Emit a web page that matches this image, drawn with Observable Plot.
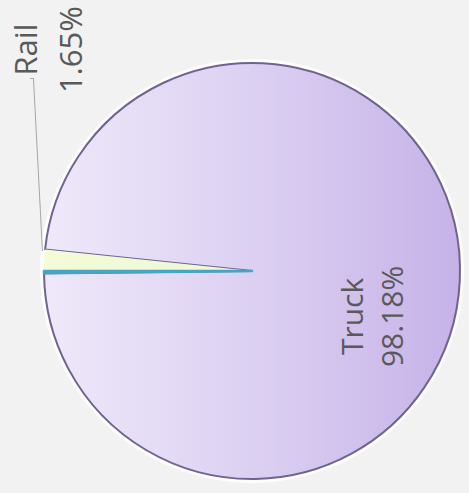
<!DOCTYPE html>
<html><head><meta charset="utf-8">
<script src="https://cdn.jsdelivr.net/npm/d3@7"></script>
<script src="https://cdn.jsdelivr.net/npm/@observablehq/plot@0.6"></script>
<style>html,body{margin:0;padding:0;background:#f2f2f2;} svg{display:block;}</style>
</head><body><div id="chart"></div>
<script>
// Data
const modes = ["Rail", "Truck", "Other"];
const shares = [1.65, 98.18, 0.17];
const pctLabels = ["1.65%", "98.18%", ""];

const data = modes.map((m, i) => ({mode: m, share: shares[i], pct: pctLabels[i]}));

// Pie layout (clockwise starting at 9 o'clock)
const arcs = d3.pie().value(d => d.share).sort(null)
  .startAngle(-Math.PI / 2).endAngle(3 * Math.PI / 2)(data);

const fills = {Rail: "url(#gRail)", Truck: "url(#gTruck)", Other: "#4bacc6"};
const strokes = {Rail: "none", Truck: "#6f6490", Other: "#4aa3c4"};
const strokeW = {Rail: 0, Truck: 2, Other: 2.5};
const drawOrder = ["Truck", "Rail", "Other"];

function pieMark(index, scales, values, dims, context) {
  const cx = scales.x(0), cy = scales.y(0);
  const r = scales.x(1) - scales.x(0);
  const g = d3.create("svg:g");
  const defs = g.append("defs");
  const gt = defs.append("linearGradient").attr("id", "gTruck")
    .attr("gradientUnits", "userSpaceOnUse")
    .attr("x1", -r).attr("x2", r).attr("y1", 0).attr("y2", 0);
  gt.append("stop").attr("offset", "0%").attr("stop-color", "#efe9fa");
  gt.append("stop").attr("offset", "50%").attr("stop-color", "#dcd0f2");
  gt.append("stop").attr("offset", "100%").attr("stop-color", "#c6b2e8");
  const gr = defs.append("linearGradient").attr("id", "gRail")
    .attr("gradientUnits", "userSpaceOnUse")
    .attr("x1", -r).attr("x2", 0).attr("y1", 0).attr("y2", 0);
  gr.append("stop").attr("offset", "0%").attr("stop-color", "#f3fcd6");
  gr.append("stop").attr("offset", "100%").attr("stop-color", "#eef7d8");
  // soft white rim
  g.append("circle").attr("cx", cx).attr("cy", cy).attr("r", r + 2)
    .attr("fill", "none").attr("stroke", "#ffffff").attr("stroke-width", 4).attr("stroke-opacity", 0.8);
  const arcGen = d3.arc().innerRadius(0).outerRadius(r);
  const root = g.append("g").attr("transform", `translate(${cx},${cy})`);
  for (const name of drawOrder) {
    const a = arcs.find(d => d.data.mode === name);
    root.append("path").attr("d", arcGen(a))
      .attr("fill", fills[name])
      .attr("stroke", strokes[name])
      .attr("stroke-width", strokeW[name])
      .attr("stroke-linejoin", "round");
  }
  return g.node();
}

// label layout (data units; center = 0,0, radius = 1)
const labelPos = {Rail: [-0.995, 1.067, 31, 1.45], Truck: [0.567, -0.216, 30, 1.32]};
const labels = data.filter(d => labelPos[d.mode]).map(d => ({
  text: d.mode + "\n" + d.pct,
  x: labelPos[d.mode][0], y: labelPos[d.mode][1],
  size: labelPos[d.mode][2], lh: labelPos[d.mode][3]
}));

const leader = [[-1.067, 0.928], [-1.053, 0.928], [-1.01, 0.10]];

const plot = Plot.plot({
  width: 469, height: 493,
  marginLeft: 44, marginRight: 9, marginTop: 63, marginBottom: 14,
  x: {domain: [-1, 1], axis: null},
  y: {domain: [-1, 1], axis: null},
  style: {background: "transparent", overflow: "visible"},
  marks: [
    pieMark,
    Plot.line(leader, {x: d => d[0], y: d => d[1], stroke: "#a6a6a6", strokeWidth: 1}),
    ...labels.map(l => Plot.text([l], {
      x: "x", y: "y", text: "text", rotate: -90,
      fontSize: l.size, lineHeight: l.lh,
      fill: "#595959", fontFamily: "Open Sans", textAnchor: "middle"
    }))
  ]
});
document.getElementById("chart").appendChild(plot);
</script>
</body></html>
